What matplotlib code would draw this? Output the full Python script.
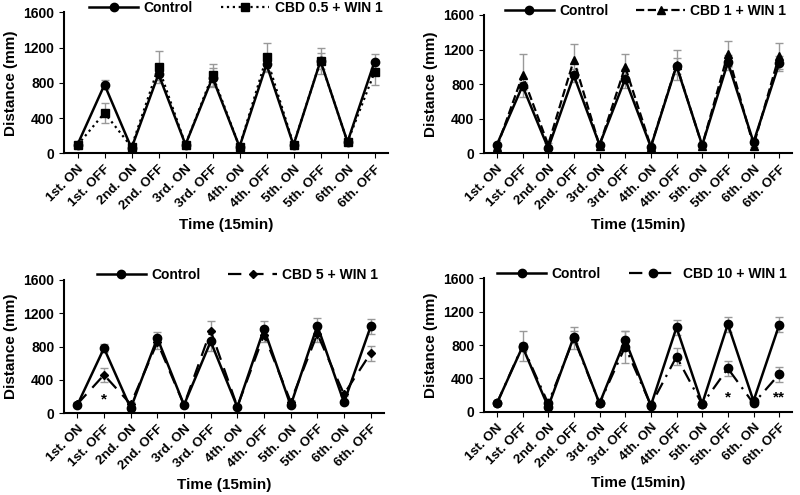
import matplotlib
matplotlib.use('Agg')
import matplotlib.pyplot as plt
from matplotlib.lines import Line2D

plt.rcParams['font.family'] = 'Liberation Sans'
plt.rcParams['font.weight'] = 'bold'

labels = ['1st. ON', '1st. OFF', '2nd. ON', '2nd. OFF', '3rd. ON', '3rd. OFF',
          '4th. ON', '4th. OFF', '5th. ON', '5th. OFF', '6th. ON', '6th. OFF']

control = [100, 780, 60, 900, 100, 860, 75, 1010, 95, 1050, 130, 1040]
control_err = [15, 50, 15, 70, 15, 110, 15, 90, 15, 90, 20, 90]

cbd05 = [95, 460, 75, 980, 100, 890, 75, 1090, 100, 1050, 130, 920]
cbd05_err = [20, 110, 20, 180, 20, 130, 20, 160, 20, 150, 20, 140]
cbd1 = [70, 900, 100, 1080, 90, 1000, 80, 1020, 90, 1150, 90, 1130]
cbd1_err = [20, 250, 20, 180, 20, 150, 20, 170, 20, 150, 20, 150]
cbd5 = [110, 460, 110, 850, 100, 990, 80, 940, 140, 950, 230, 720]
cbd5_err = [20, 80, 20, 80, 20, 120, 20, 90, 20, 100, 20, 90]
cbd10 = [100, 790, 100, 880, 100, 780, 80, 660, 90, 520, 100, 450]
cbd10_err = [20, 180, 20, 130, 20, 190, 20, 100, 20, 90, 20, 90]

panels = [
    (cbd05, cbd05_err, 'CBD 0.5 + WIN 1', 's', ':', {}),
    (cbd1, cbd1_err, 'CBD 1 + WIN 1', '^', '--', {}),
    (cbd5, cbd5_err, 'CBD 5 + WIN 1', 'D', (0, (6, 4)), {1: '*'}),
    (cbd10, cbd10_err, 'CBD 10 + WIN 1', 'o', (0, (6, 3, 1, 3)), {9: '*', 11: '**'}),
]
boxes = [(0.08, 0.69, 0.405, 0.285), (0.605, 0.69, 0.385, 0.28),
         (0.08, 0.165, 0.40, 0.27), (0.605, 0.168, 0.385, 0.27)]

fig = plt.figure(figsize=(8, 4.95), dpi=100)
x = list(range(len(labels)))
for (vals, err, name, mk, ls, stars), box in zip(panels, boxes):
    ax = fig.add_axes(box)
    ms = 6 if mk != 'D' else 4.5
    ax.errorbar(x, vals, yerr=err, color='black', ecolor='#999999', elinewidth=1,
                capsize=3, ls=ls, lw=1.6, marker=mk, ms=ms)
    ax.errorbar(x, control, yerr=control_err, color='black', ecolor='#999999',
                elinewidth=1, capsize=3, ls='-', lw=1.8, marker='o', ms=6)
    for i, s in stars.items():
        ax.text(i, 170, s, ha='center', va='center', fontsize=11)
    ax.set_ylim(0, 1600)
    ax.set_yticks([0, 400, 800, 1200, 1600])
    ax.set_xlim(-0.5, 11.5)
    ax.set_xticks(x)
    ax.set_xticklabels(labels, rotation=45, ha='right', rotation_mode='anchor', fontsize=9.5)
    ax.tick_params(axis='y', labelsize=10)
    ax.spines['top'].set_visible(False)
    ax.spines['right'].set_visible(False)
    ax.spines['left'].set_linewidth(1.5)
    ax.spines['bottom'].set_linewidth(1.5)
    ax.set_ylabel('Distance (mm)', fontsize=11, fontweight='bold')
    ax.set_xlabel('Time (15min)', fontsize=11, fontweight='bold')
    handles = [Line2D([], [], color='black', lw=1.8, marker='o', ms=6),
               Line2D([], [], color='black', lw=1.6, ls=ls, marker=mk, ms=ms)]
    ax.legend(handles, ['Control', name], loc='lower right', bbox_to_anchor=(1.0, 0.94),
              ncol=2, frameon=False, fontsize=10, handlelength=3.5, columnspacing=2,
              borderaxespad=0, handletextpad=0.4)

fig.savefig('out.png', dpi=100)
